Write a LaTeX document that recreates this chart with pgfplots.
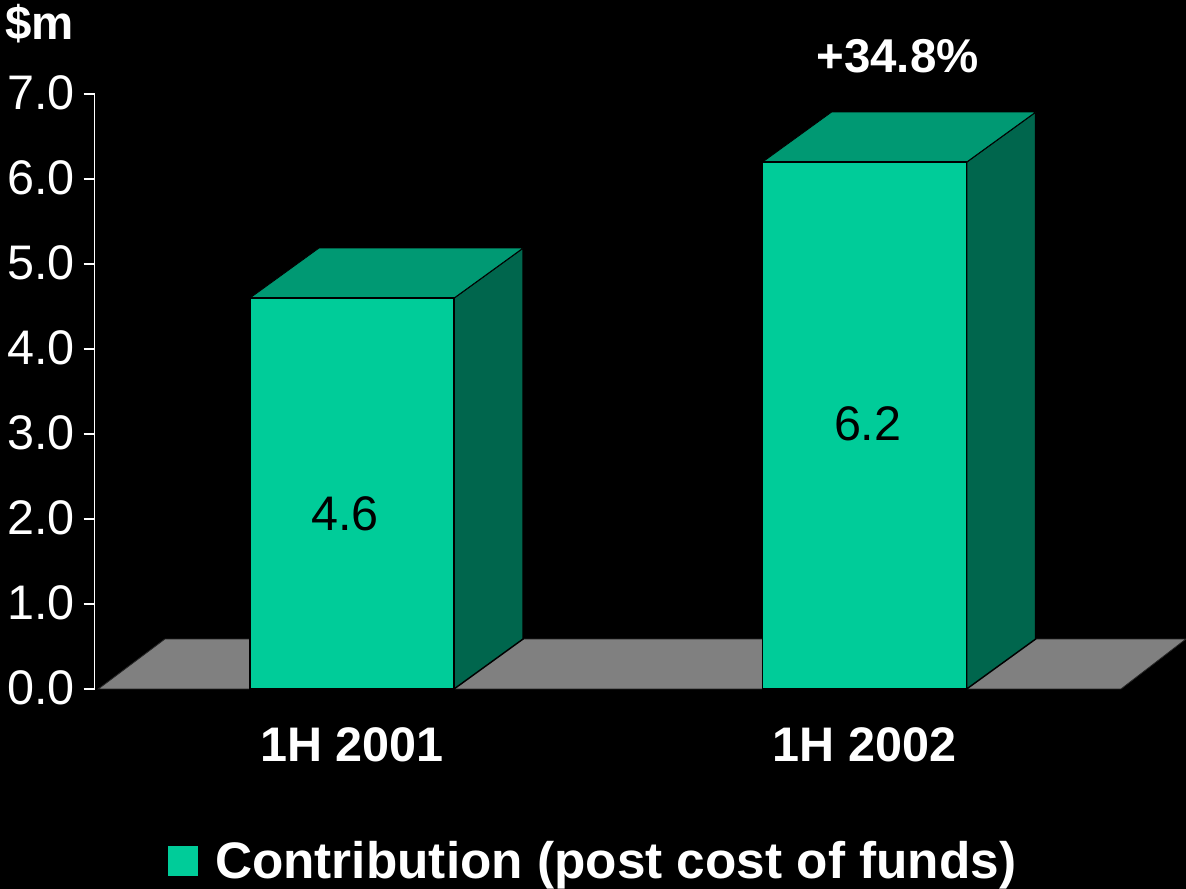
\documentclass[border=0pt]{standalone}
\usepackage{pgfplots}
\usepackage{fontspec}
\setmainfont{Liberation Sans}
\pgfplotsset{compat=1.18}
\definecolor{barfront}{HTML}{00CC99}
\definecolor{bartop}{HTML}{009973}
\definecolor{barside}{HTML}{00664D}
\definecolor{floorgrey}{HTML}{808080}
\newcommand{\bigfont}{\fontsize{36.4}{40}\selectfont}
\newcommand{\headfont}{\fontsize{35.6}{40}\selectfont}
\newcommand{\legendfont}{\fontsize{38.5}{42}\selectfont}
\begin{document}
\begin{tikzpicture}[x=0.75pt,y=0.75pt]
\path[use as bounding box,fill=black] (0,0) rectangle (1186,889);
\begin{axis}[
  at={(71.025pt,150pt)}, anchor=south west,
  scale only axis, width=769.7pt, height=446.25pt,
  xmin=-0.502, xmax=1.5, ymin=0, ymax=7,
  clip=false,
  axis y line*=left, axis x line*=bottom,
  x axis line style={draw=none},
  y axis line style={white,line width=1.1pt,-},
  xtick={0,1}, xticklabels={1H 2001,1H 2002},
  xtick style={draw=none},
  ytick={0,1,2,3,4,5,6,7},
  ytick style={white,line width=1.1pt},
  tick align=outside,
  major tick length=8.25pt,
  /pgf/number format/assume math mode=true,
  /pgf/number format/fixed, /pgf/number format/fixed zerofill, /pgf/number format/precision=1,
  yticklabel style={white,font=\bigfont,inner sep=0pt,xshift=-6.5pt,yshift=0.8pt},
  xticklabel style={white,font=\bigfont\bfseries,inner sep=0pt,yshift=-20.5pt},
  legend style={at={(axis cs:0.4797,-2.02)},anchor=center,draw=none,fill=none,
    text=white,font=\legendfont\bfseries,inner sep=0pt,
    nodes={inner xsep=9pt}},
]
% floor of the chart
\addplot[fill=floorgrey,draw=black!70!floorgrey,line width=0.6pt,forget plot]
  coordinates {(-0.495,0) (-0.365,0.588) (1.6268,0.588) (1.5,0)} --cycle;
% side and top faces of each bar
\addplot[fill=barside,draw=black,line width=1.1pt,forget plot]
  coordinates {(0.199,0) (0.3336,0.588) (0.3336,5.188) (0.199,4.6)} --cycle;
\addplot[fill=bartop,draw=black,line width=0.6pt,forget plot]
  coordinates {(-0.199,4.6) (-0.0644,5.188) (0.3336,5.188) (0.199,4.6)} --cycle;
\addplot[fill=barside,draw=black,line width=1.1pt,forget plot]
  coordinates {(1.199,0) (1.3336,0.588) (1.3336,6.788) (1.199,6.2)} --cycle;
\addplot[fill=bartop,draw=black,line width=0.6pt,forget plot]
  coordinates {(0.801,6.2) (0.9356,6.788) (1.3336,6.788) (1.199,6.2)} --cycle;
% front faces
\addplot[ybar,bar width=0.398,bar shift=0pt,fill=barfront,draw=black,line width=1.1pt,
  /pgfplots/legend image code/.code={%
    \path (0pt,0pt) rectangle (25.5pt,1pt);
    \fill[barfront] (0pt,-11pt) rectangle (22pt,10.75pt);}]
  coordinates {(0,4.6) (1,6.2)};
\addlegendentry{Contribution (post cost of funds)}
% value labels
\node[font=\bigfont,text=black,inner sep=0pt] at (axis cs:-0.014,2.06) {4.6};
\node[font=\bigfont,text=black,inner sep=0pt] at (axis cs:1.006,3.12) {6.2};
\node[font=\headfont\bfseries,text=white,inner sep=0pt] at (axis cs:1.064,7.45) {+34.8\%};
\end{axis}
\node[font=\headfont\bfseries,text=white,inner sep=0pt,anchor=base west] at (5,849) {\$m};
\end{tikzpicture}
\end{document}
